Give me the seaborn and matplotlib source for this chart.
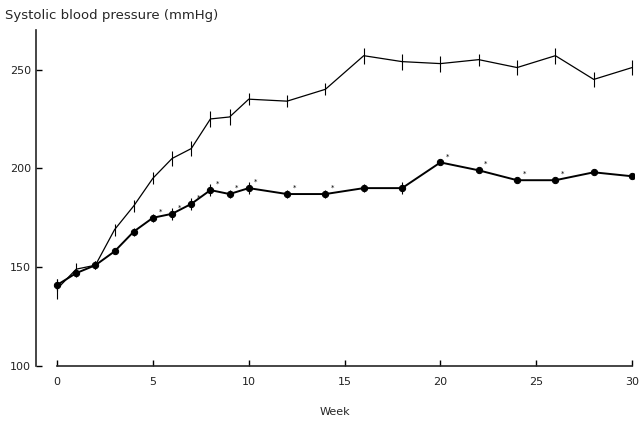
import numpy as np
import pandas as pd
import matplotlib
matplotlib.use("Agg")
import matplotlib.pyplot as plt
import seaborn as sns

weeks = [0, 1, 2, 3, 4, 5, 6, 7, 8, 9, 10, 12, 14, 16, 18, 20, 22, 24, 26, 28, 30]
upper_bp = [139, 149, 151, 169, 181, 195, 205, 210, 225, 226, 235, 234, 240, 257, 254, 253, 255, 251, 257, 245, 251]
upper_err = [5, 3, 2, 3, 3, 3, 4, 4, 4, 4, 3, 3, 3, 4, 4, 4, 3, 4, 4, 4, 4]
lower_bp = [141, 147, 151, 158, 168, 175, 177, 182, 189, 187, 190, 187, 187, 190, 190, 203, 199, 194, 194, 198, 196]
lower_err = [3, 2, 2, 1, 2, 2, 3, 3, 3, 2, 3, 2, 2, 2, 3, 1, 1, 1, 1, 1, 1]
# weeks that carry a small significance mark beside the lower curve
sig_weeks = [5, 6, 7, 8, 9, 10, 12, 14, 20, 22, 24, 26]

df = pd.DataFrame({"week": weeks, "upper": upper_bp, "lower": lower_bp})

sns.set_style("ticks")
plt.rcParams["font.family"] = ["DejaVu Sans"]

fig = plt.figure(figsize=(6.42, 4.21), dpi=100)
# y spine at x=36 px, week 0 at 57 px, week 30 at 632 px
ax = fig.add_axes([36 / 642, (421 - 366) / 421, (634 - 36) / 642, (366 - 30) / 421])

sns.lineplot(data=df, x="week", y="upper", color="black", lw=0.9, ax=ax)
ax.errorbar(weeks, upper_bp, yerr=upper_err, fmt="none", ecolor="black", elinewidth=0.8, capsize=0)
sns.lineplot(data=df, x="week", y="lower", color="black", lw=1.4, marker="o", markersize=4.5,
             markeredgecolor="black", markerfacecolor="black", ax=ax)
ax.errorbar(weeks, lower_bp, yerr=lower_err, fmt="none", ecolor="black", elinewidth=0.8, capsize=0)

for w in sig_weeks:
    ax.annotate("*", (w, df.loc[df.week == w, "lower"].iloc[0]), xytext=(4, 3),
                textcoords="offset points", fontsize=5, color="black")

ax.set_xlim(-1.1, 30.1)
ax.set_ylim(100, 270)
ax.set_xticks([0, 5, 10, 15, 20, 25, 30])
ax.set_yticks([100, 150, 200, 250])
ax.tick_params(direction="in", length=4, width=1, labelsize=8, color="black", labelcolor="#222222")
ax.tick_params(axis="x", pad=8)
ax.spines["top"].set_visible(False)
ax.spines["right"].set_visible(False)
ax.spines["bottom"].set_bounds(0, 30)
ax.spines["left"].set_linewidth(1.2)
ax.spines["bottom"].set_linewidth(1.2)
ax.set_xlabel("Week", fontsize=8, labelpad=14)
ax.set_ylabel("")
fig.text(5 / 642, 1 - 15 / 421, "Systolic blood pressure (mmHg)", fontsize=9.5, va="center", ha="left")

fig.savefig("out.png", dpi=100)
